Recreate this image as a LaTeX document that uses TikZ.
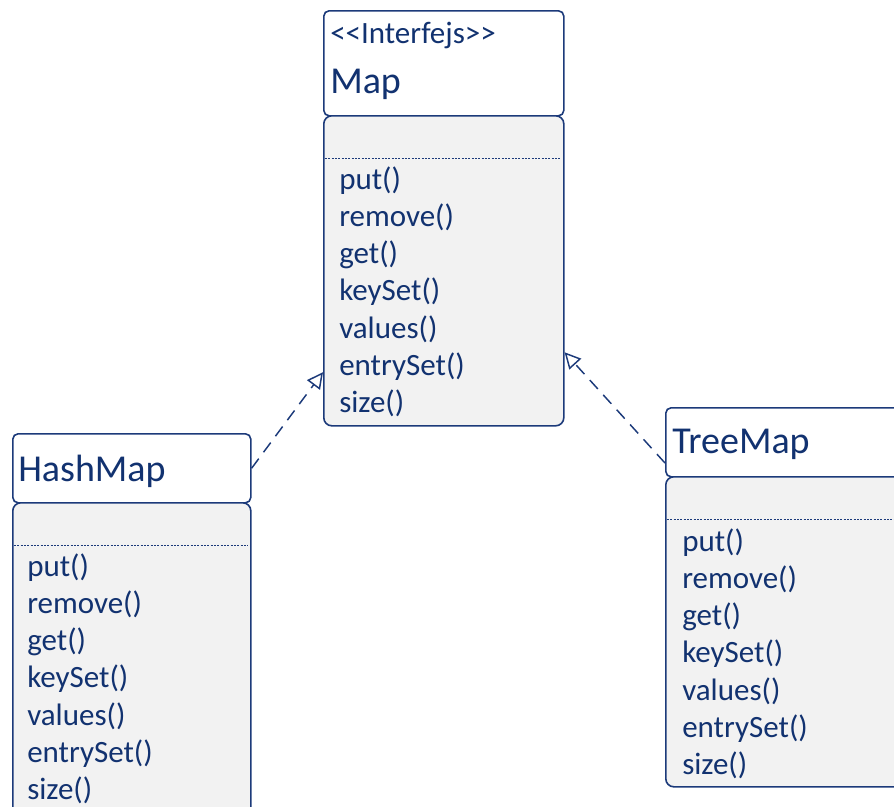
\documentclass[tikz,border=0pt]{standalone}
\usepackage{fontspec}
\setmainfont{Carlito}
\usetikzlibrary{arrows.meta}

\definecolor{umlLine}{RGB}{28,58,122}
\definecolor{umlText}{RGB}{18,50,112}
\definecolor{umlFill}{RGB}{242,242,242}

\begin{document}
\begin{tikzpicture}[
  x=0.75pt, y=-0.75pt,
  font=\fontsize{23.25}{28}\selectfont, text=umlText,
  head/.style={
    draw=umlLine, fill=white, line width=1.2pt, rounded corners=4pt,
    anchor=north west, inner sep=0pt
  },
  body/.style={
    draw=umlLine, fill=umlFill, line width=1.2pt, rounded corners=6pt,
    anchor=north west, inner sep=0pt
  },
  sep/.style={umlLine, line width=0.7pt, dash pattern=on 1.5pt off 1pt},
  realize/.style={
    umlLine, line width=1.1pt, dash pattern=on 9pt off 6pt,
    -{Triangle[open, length=12pt, width=12pt, fill=white]}
  },
  classname/.style={anchor=base west, inner sep=0pt, font=\fontsize{28.5}{34}\selectfont},
  op/.style={anchor=base west, inner sep=0pt}
]

  \useasboundingbox (0,0) rectangle (894,807);

  % --- Map (interface) ---
  \node[head, minimum width=180pt, minimum height=78.75pt] (map-head) at (323,10) {};
  \node[body, minimum width=180pt, minimum height=232.5pt] (map-body) at (323,115) {};
  \node[op] (map-stereo) at (330,43) {<\kern0pt<Interfejs>\kern0pt>};
  \node[classname] (map-name) at (330,93) {Map};
  \draw[sep] (325,158) -- (561,158);
  \foreach \m [count=\i from 0] in {put(), remove(), get(), keySet(), values(), entrySet(), size()}
    \node[op] (map-op\i) at (339,189+37.3*\i) {\m};

  % --- HashMap ---
  \node[head, minimum width=178.5pt, minimum height=51.75pt] (hash-head) at (12,433) {};
  \node[body, minimum width=178.5pt, minimum height=247.5pt] (hash-body) at (12,502) {};
  \node[classname] (hash-name) at (18,481) {HashMap};
  \draw[sep] (14,545) -- (248,545);
  \foreach \m [count=\i from 0] in {put(), remove(), get(), keySet(), values(), entrySet(), size()}
    \node[op] (hash-op\i) at (27,576+37.3*\i) {\m};

  % --- TreeMap ---
  \node[head, minimum width=195pt, minimum height=51.75pt] (tree-head) at (665,407) {};
  \node[body, minimum width=195pt, minimum height=232.5pt] (tree-body) at (665,476) {};
  \node[classname] (tree-name) at (672,453) {TreeMap};
  \draw[sep] (667,519) -- (894,519);
  \foreach \m [count=\i from 0] in {put(), remove(), get(), keySet(), values(), entrySet(), size()}
    \node[op] (tree-op\i) at (682,551+37.3*\i) {\m};

  % --- realizations ---
  \draw[realize] (hash-head.east) -- (map-body.220.6);
  \draw[realize] (tree-head.189.4) -- (map-body.326.3);

\end{tikzpicture}
\end{document}
